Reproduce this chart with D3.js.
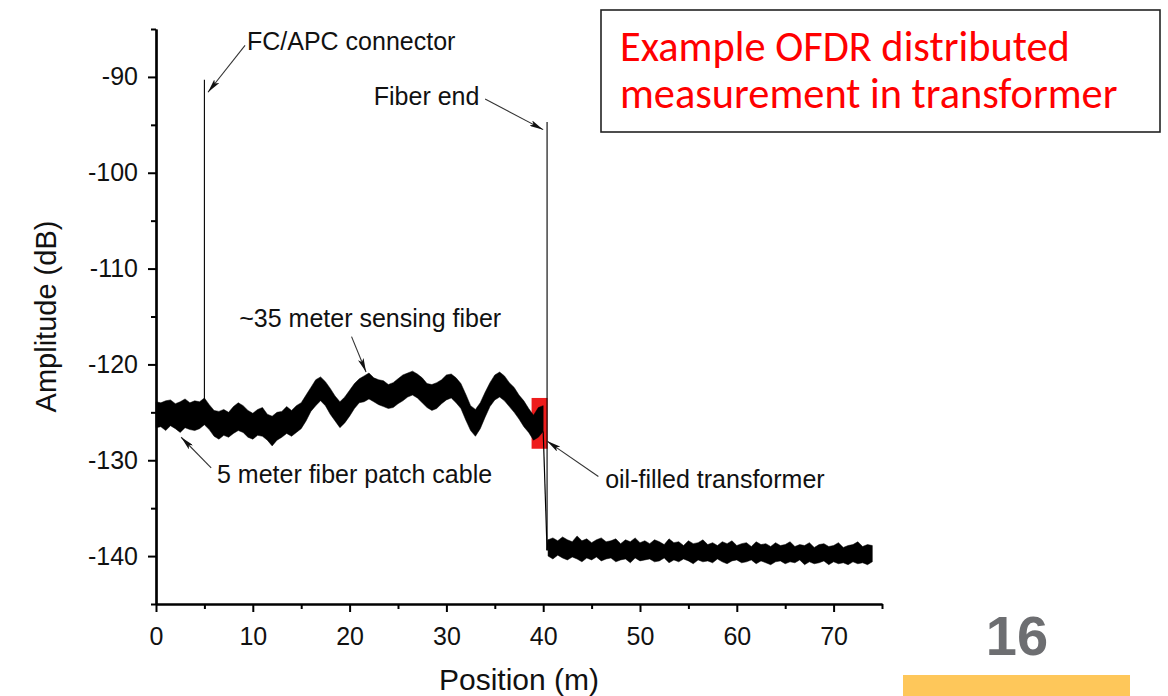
<!DOCTYPE html>
<html>
<head>
<meta charset="utf-8">
<script src="https://cdn.jsdelivr.net/npm/d3@7/dist/d3.min.js"></script>
<style>
  html, body { margin: 0; padding: 0; background: #ffffff; }
  svg { display: block; }
</style>
</head>
<body>
<svg id="chart" width="1168" height="696"></svg>
<script>
// ---------------- DATA ----------------
// Sensing section (0 m .. 40 m), sampled every 0.5 m: upper / lower envelope of the noisy trace (dB)
const sensingStart = 0;
const sensingStep = 0.5;
const sensingUpper = [
  -123.9,-124.0,-123.8,-123.7,-124.1,-123.9,-123.6,-124.0,-123.8,-123.9,
  -123.5,-124.2,-124.8,-124.9,-124.7,-125.0,-124.4,-124.0,-124.3,-124.8,
  -125.1,-124.7,-124.5,-125.2,-125.4,-125.0,-124.9,-124.4,-124.8,-124.3,
  -124.0,-123.2,-122.4,-121.6,-121.3,-121.8,-122.5,-123.3,-123.9,-123.4,
  -122.7,-122.0,-121.5,-121.2,-120.9,-121.4,-121.6,-121.7,-122.1,-121.9,
  -121.5,-121.1,-120.9,-120.7,-121.0,-121.4,-122.0,-122.1,-121.9,-121.6,
  -121.1,-121.0,-121.4,-122.0,-123.1,-124.3,-124.7,-124.0,-122.9,-121.9,
  -121.1,-120.8,-121.2,-121.9,-122.4,-123.2,-123.8,-124.6,-125.3,-124.5,
  -124.3
];
const sensingLower = [
  -126.6,-126.5,-126.9,-126.4,-126.7,-127.1,-126.6,-126.8,-126.9,-126.7,
  -126.3,-126.8,-127.5,-127.8,-127.4,-127.6,-127.2,-126.9,-127.1,-127.6,
  -127.8,-127.4,-127.5,-127.9,-128.5,-127.9,-127.6,-127.2,-127.5,-127.1,
  -126.7,-125.9,-124.9,-124.3,-123.8,-124.3,-125.2,-125.9,-126.6,-126.1,
  -125.4,-124.6,-124.0,-123.9,-123.6,-123.9,-124.2,-124.4,-124.6,-124.5,
  -124.1,-123.8,-123.4,-123.2,-123.5,-124.0,-124.5,-124.8,-124.6,-124.1,
  -123.7,-123.5,-124.0,-124.6,-125.8,-126.9,-127.5,-126.7,-125.5,-124.4,
  -123.7,-123.4,-123.8,-124.4,-125.0,-125.7,-126.5,-127.1,-127.9,-127.6,
  -127.0
];
// Noise floor after the fiber end (40.5 m .. 74 m), sampled every 0.5 m
const floorStart = 40.5;
const floorStep = 0.5;
const floorUpper = [
  -138.3,-138.1,-138.4,-138.0,-138.3,-138.5,-137.9,-138.4,-138.2,-138.6,
  -138.3,-138.1,-138.5,-138.4,-138.2,-138.7,-138.3,-138.5,-138.1,-138.6,
  -138.4,-138.7,-138.3,-138.5,-138.8,-138.2,-138.6,-138.5,-138.9,-138.4,
  -138.7,-138.6,-138.3,-138.8,-138.6,-138.9,-138.5,-138.7,-138.4,-138.9,
  -138.7,-138.6,-139.0,-138.5,-138.8,-138.7,-139.0,-138.6,-138.9,-138.8,
  -138.5,-139.0,-138.8,-138.9,-138.6,-139.1,-138.8,-138.7,-139.0,-138.9,
  -138.6,-139.1,-138.9,-138.8,-138.5,-139.0,-138.8,-138.9
];
const floorLower = [
  -140.0,-140.3,-139.9,-140.2,-140.4,-140.1,-140.3,-140.6,-140.2,-140.4,
  -140.1,-140.5,-140.3,-140.2,-140.6,-140.4,-140.3,-140.7,-140.2,-140.5,
  -140.4,-140.3,-140.6,-140.5,-140.2,-140.7,-140.4,-140.6,-140.3,-140.5,
  -140.8,-140.4,-140.6,-140.5,-140.7,-140.3,-140.6,-140.8,-140.5,-140.4,
  -140.7,-140.6,-140.4,-140.8,-140.5,-140.7,-140.9,-140.6,-140.5,-140.8,
  -140.6,-140.7,-140.4,-140.9,-140.6,-140.8,-140.7,-140.5,-140.9,-140.6,
  -140.8,-140.7,-140.9,-140.6,-140.8,-140.7,-140.9,-140.6
];
// Reflection peaks (connector and fiber end)
const peakPositions = [5.0, 40.4];
const peakTops = [-90.3, -94.7];
const peakBases = [-124.8, -139.4];
// Highlighted transformer region
const regionX = [38.8, 40.45];
const regionY = [-128.8, -123.5];
// Axis ticks
const xTicks = [0, 10, 20, 30, 40, 50, 60, 70];
const xMinorTicks = [5, 15, 25, 35, 45, 55, 65, 75];
const yTicks = [-140, -130, -120, -110, -100, -90];
const yMinorTicks = [-145, -135, -125, -115, -105, -95, -85];
const xDomain = [0, 75];
const yDomain = [-145, -85];
// Text
const xTitle = "Position (m)";
const yTitle = "Amplitude (dB)";
const annotationTexts = ["FC/APC connector", "Fiber end", "~35 meter sensing fiber", "5 meter fiber patch cable", "oil-filled transformer"];
const annotationTextX = [9.4, 22.5, 8.6, 6.3, 46.4];
const annotationTextY = [-87.2, -92.9, -116.1, -132.4, -132.9];
const arrowFromX = [9.2, 34.0, 20.2, 5.7, 45.7];
const arrowFromY = [-86.7, -92.3, -117.1, -130.8, -131.7];
const arrowToX = [5.37, 40.0, 21.7, 2.6, 40.4];
const arrowToY = [-91.6, -95.5, -120.8, -127.6, -128.0];
const titleLines = ["Example OFDR distributed", "measurement in transformer"];
const pageNumber = "16";

// ---------------- DRAW ----------------
const svg = d3.select("#chart");
const x = d3.scaleLinear().domain(xDomain).range([156, 882]);
const y = d3.scaleLinear().domain(yDomain).range([604, 29]);
const FONT = "'Liberation Sans', Arial, Helvetica, sans-serif";

// arrow marker
const defs = svg.append("defs");
defs.append("marker")
  .attr("id", "arrowhead")
  .attr("viewBox", "0 0 14 6")
  .attr("refX", 14).attr("refY", 3)
  .attr("markerWidth", 14).attr("markerHeight", 6)
  .attr("markerUnits", "userSpaceOnUse")
  .attr("orient", "auto")
  .append("path")
  .attr("d", "M0,0 L14,3 L0,6 L3,3 Z")
  .attr("fill", "#111");

// red region
svg.append("rect")
  .attr("x", x(regionX[0]))
  .attr("y", y(regionY[1]))
  .attr("width", x(regionX[1]) - x(regionX[0]))
  .attr("height", y(regionY[0]) - y(regionY[1]))
  .attr("fill", "#ee1c1c");

// trace as envelope areas
const sensing = sensingUpper.map((u, i) => ({ pos: sensingStart + i * sensingStep, hi: u, lo: sensingLower[i] }));
const floorData = floorUpper.map((u, i) => ({ pos: floorStart + i * floorStep, hi: u, lo: floorLower[i] }));
const area = d3.area().x(d => x(d.pos)).y0(d => y(d.lo)).y1(d => y(d.hi)).curve(d3.curveLinear);

[sensing, floorData].forEach(ds => {
  svg.append("path")
    .datum(ds)
    .attr("d", area)
    .attr("fill", "#000")
    .attr("stroke", "#000")
    .attr("stroke-width", 0.5)
    .attr("stroke-linejoin", "miter");
});

// drop between sections
svg.append("line")
  .attr("x1", x(sensing[sensing.length - 1].pos)).attr("y1", y(sensing[sensing.length - 1].lo))
  .attr("x2", x(peakPositions[1])).attr("y2", y(peakBases[1]))
  .attr("stroke", "#000").attr("stroke-width", 1.2);
svg.append("line")
  .attr("x1", x(peakPositions[1])).attr("y1", y(peakBases[1]))
  .attr("x2", x(floorData[0].pos)).attr("y2", y(floorData[0].hi))
  .attr("stroke", "#000").attr("stroke-width", 1.2);

// reflection peaks
peakPositions.forEach((p, i) => {
  svg.append("line")
    .attr("x1", x(p)).attr("x2", x(p))
    .attr("y1", y(peakBases[i])).attr("y2", y(peakTops[i]))
    .attr("stroke", "#000").attr("stroke-width", 1.1);
});

// axes
const yAxis = svg.append("g").attr("transform", `translate(${x(xDomain[0])},0)`)
  .call(d3.axisLeft(y).tickValues(yTicks).tickSize(8).tickPadding(10).tickSizeOuter(0).tickFormat(d3.format("d")));
const yMinor = svg.append("g").attr("transform", `translate(${x(xDomain[0])},0)`)
  .call(d3.axisLeft(y).tickValues(yMinorTicks).tickSize(5).tickSizeOuter(0).tickFormat(""));
const xAxis = svg.append("g").attr("transform", `translate(0,${y(yDomain[0])})`)
  .call(d3.axisBottom(x).tickValues(xTicks).tickSize(8).tickPadding(15).tickSizeOuter(0).tickFormat(d3.format("d")));
const xMinor = svg.append("g").attr("transform", `translate(0,${y(yDomain[0])})`)
  .call(d3.axisBottom(x).tickValues(xMinorTicks).tickSize(5).tickSizeOuter(0).tickFormat(""));

[yAxis, yMinor, xAxis, xMinor].forEach(g => {
  g.selectAll("path.domain").attr("stroke", "#000").attr("stroke-width", 2.2);
  g.selectAll(".tick line").attr("stroke", "#000").attr("stroke-width", 2);
  g.selectAll(".tick text").attr("fill", "#111").style("font-family", FONT).style("font-size", "25px");
});
yAxis.selectAll(".tick text").text(d => String(d).replace("\u2212", "-"));

// axis titles
svg.append("text")
  .attr("x", (x(xDomain[0]) + x(xDomain[1])) / 2)
  .attr("y", 690)
  .attr("text-anchor", "middle")
  .style("font-family", FONT).style("font-size", "30px").attr("fill", "#111")
  .text(xTitle);
svg.append("text")
  .attr("transform", `translate(56,${(y(yDomain[0]) + y(yDomain[1])) / 2}) rotate(-90)`)
  .attr("text-anchor", "middle")
  .style("font-family", FONT).style("font-size", "29px").attr("fill", "#111")
  .text(yTitle);

// annotations
annotationTexts.forEach((t, i) => {
  svg.append("line")
    .attr("x1", x(arrowFromX[i])).attr("y1", y(arrowFromY[i]))
    .attr("x2", x(arrowToX[i])).attr("y2", y(arrowToY[i]))
    .attr("stroke", "#333").attr("stroke-width", 1.1)
    .attr("marker-end", "url(#arrowhead)");
  svg.append("text")
    .attr("x", x(annotationTextX[i])).attr("y", y(annotationTextY[i]))
    .style("font-family", FONT).style("font-size", "25px").attr("fill", "#111")
    .text(t);
});

// title box
svg.append("rect")
  .attr("x", 601).attr("y", 10).attr("width", 559).attr("height", 122)
  .attr("fill", "#fff").attr("stroke", "#222").attr("stroke-width", 1.6);
const TFONT = "Carlito, Calibri, Lato, 'Open Sans', sans-serif";
const t1 = svg.append("text").attr("x", 620).attr("y", 61)
  .style("font-family", TFONT).style("font-size", "38px").attr("fill", "#ff0000").text(titleLines[0]);
const t2 = svg.append("text").attr("x", 620).attr("y", 108)
  .style("font-family", TFONT).style("font-size", "38px").attr("fill", "#ff0000").text(titleLines[1]);
const w1 = t1.node().getComputedTextLength();
const fs = 38 * 450 / w1;
t1.style("font-size", fs + "px");
t2.style("font-size", fs + "px");

// page number and footer bar
svg.append("text").attr("x", 1017).attr("y", 655).attr("text-anchor", "middle")
  .style("font-family", FONT).style("font-size", "56px").style("font-weight", "bold")
  .attr("fill", "#6d6e71").text(pageNumber);
svg.append("rect").attr("x", 903).attr("y", 675).attr("width", 227).attr("height", 21).attr("fill", "#fec75a");
</script>
</body>
</html>
